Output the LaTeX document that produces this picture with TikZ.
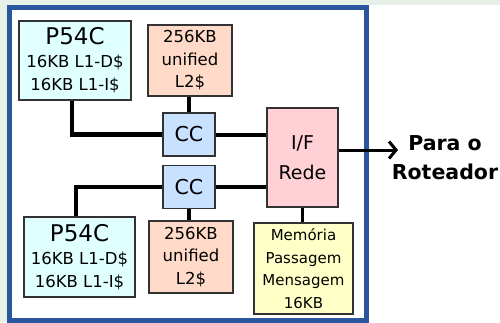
\documentclass[tikz,border=0pt]{standalone}
\usepackage{fontspec}
\setmainfont{DejaVu Sans}
\usetikzlibrary{arrows.meta,calc}
\definecolor{bggreen}{RGB}{230,240,230}
\definecolor{frameblue}{RGB}{42,86,158}
\definecolor{cpufill}{RGB}{224,255,255}
\definecolor{l2fill}{RGB}{255,218,200}
\definecolor{ccfill}{RGB}{200,225,255}
\definecolor{iffill}{RGB}{255,208,214}
\definecolor{memfill}{RGB}{255,255,200}
\definecolor{boxline}{RGB}{50,50,50}
\tikzset{
  blk/.style={draw=boxline, line width=1.5pt, inner sep=0pt, align=center, anchor=center},
  cpubox/.style={blk, fill=cpufill, minimum width=112pt, minimum height=79pt, font=\fontsize{16.5}{23}\selectfont},
  l2box/.style={blk, fill=l2fill, minimum width=84pt, minimum height=71pt, font=\fontsize{16.5}{22.5}\selectfont},
  ccbox/.style={blk, fill=ccfill, minimum width=52pt, minimum height=43pt, font=\fontsize{20.5}{22}\selectfont},
  ifbox/.style={blk, fill=iffill, minimum width=71pt, minimum height=99pt, font=\fontsize{19}{30}\selectfont},
  membox/.style={blk, fill=memfill, minimum width=99pt, minimum height=91pt, font=\fontsize{15}{22.5}\selectfont},
  bus/.style={line width=4.5pt, black},
  link/.style={line width=4pt, black},
  thinlink/.style={line width=3.5pt, black},
  outarrow/.style={line width=3pt, black, -{Straight Barb[length=7pt,width=17pt,line width=3pt]}},
}
\begin{document}
\begin{tikzpicture}[x=1pt,y=-1pt]
\useasboundingbox (0,0) rectangle (500,322);
\fill[white] (0,0) rectangle (500,322);
\fill[bggreen] (0,0) rectangle (500,5);
\fill[bggreen] (0,0) rectangle (7,322);
\draw[frameblue, line width=5pt, fill=white] (9.5,7.5) rectangle (366,320);

\node[cpubox] (p1) at (75,60.5) {{\fontsize{23}{23}\selectfont P54C}\\16KB L1-D\$\\16KB L1-I\$};
\node[l2box] (l2a) at (190,60.5) {256KB\\unified\\L2\$};
\node[ccbox] (cc1) at (189,134.5) {CC};
\node[ccbox] (cc2) at (189,187) {CC};
\node[cpubox, minimum width=111pt, minimum height=80pt] (p2) at (79.5,257) {{\fontsize{23}{23}\selectfont P54C}\\16KB L1-D\$\\16KB L1-I\$};
\node[l2box, minimum height=72pt] (l2b) at (191,257) {256KB\\unified\\L2\$};
\node[ifbox] (ifr) at (302.5,157.5) {I/F\\Rede};
\node[membox] (mem) at (303.5,268.5) {Memória\\Passagem\\Mensagem\\16KB};

\draw[bus] ([xshift=-3pt]p1.south) |- (cc1.west);
\draw[thinlink] (cc1.north) -- (cc1.north |- l2a.south);
\draw[link] (cc1.east) -- (ifr.west |- cc1.east);
\draw[bus] ([xshift=-3.5pt]p2.north) |- (cc2.west);
\draw[thinlink] (cc2.south) -- (cc2.south |- l2b.north);
\draw[link] (cc2.east) -- (ifr.west |- cc2.east);
\draw[thinlink] (ifr.south) -- (ifr.south |- mem.north);

\coordinate (out) at (398,150);
\draw[outarrow] (ifr.east |- out) -- (out);
\node[font=\bfseries\fontsize{20.5}{29}\selectfont, align=center] (dest) at (445,157.5) {Para o\\Roteador};
\end{tikzpicture}
\end{document}
